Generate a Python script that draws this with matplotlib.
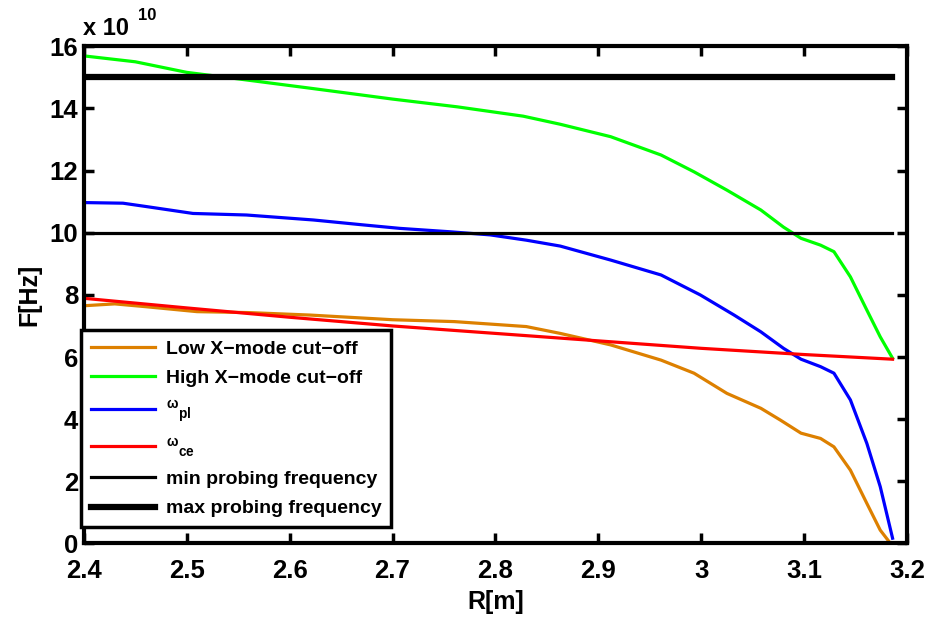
import numpy as np
import matplotlib
matplotlib.use('Agg')
import matplotlib.pyplot as plt

plt.rcParams['font.family'] = ['Liberation Sans', 'DejaVu Sans']
plt.rcParams['font.weight'] = 'bold'
plt.rcParams['mathtext.fontset'] = 'custom'
plt.rcParams['mathtext.rm'] = 'Liberation Sans:bold'
plt.rcParams['mathtext.it'] = 'Liberation Sans:bold'
plt.rcParams['mathtext.bf'] = 'Liberation Sans:bold'

# values in units of 1e10 Hz
r_low = [2.40, 2.43, 2.46, 2.51, 2.56, 2.62, 2.70, 2.76, 2.83, 2.863, 2.912, 2.961,
         2.993, 3.025, 3.058, 3.077, 3.097, 3.116, 3.129, 3.145, 3.161, 3.174, 3.184]
f_low = [7.65, 7.71, 7.62, 7.46, 7.43, 7.35, 7.20, 7.14, 6.98, 6.76, 6.39, 5.90,
         5.48, 4.83, 4.35, 3.97, 3.55, 3.38, 3.11, 2.36, 1.29, 0.43, 0.0]

r_high = [2.40, 2.45, 2.50, 2.55, 2.62, 2.70, 2.763, 2.827, 2.863, 2.912, 2.961,
          2.993, 3.025, 3.058, 3.080, 3.097, 3.116, 3.129, 3.145, 3.161, 3.174, 3.186]
f_high = [15.69, 15.50, 15.16, 14.95, 14.65, 14.30, 14.05, 13.75, 13.49, 13.09, 12.50,
          11.96, 11.37, 10.73, 10.18, 9.82, 9.60, 9.39, 8.58, 7.51, 6.65, 5.96]

r_pl = [2.40, 2.438, 2.461, 2.506, 2.558, 2.623, 2.672, 2.707, 2.756, 2.795, 2.830,
        2.863, 2.912, 2.961, 2.999, 3.032, 3.058, 3.080, 3.097, 3.116, 3.129, 3.145,
        3.161, 3.174, 3.186]
f_pl = [10.97, 10.95, 10.84, 10.62, 10.57, 10.41, 10.25, 10.14, 10.03, 9.93, 9.76,
        9.57, 9.12, 8.64, 8.00, 7.35, 6.81, 6.28, 5.93, 5.69, 5.48, 4.62,
        3.22, 1.83, 0.17]

r_ce = [2.40, 2.50, 2.60, 2.70, 2.80, 2.90, 3.00, 3.10, 3.186]
f_ce = [7.89, 7.58, 7.28, 7.00, 6.76, 6.52, 6.28, 6.08, 5.93]

r_probe = [2.40, 3.185]
f_min = 10.0
f_max = 15.0

fig = plt.figure(figsize=(9.29, 6.2), dpi=100)
ax = fig.add_axes([0.0903, 0.1234, 0.886, 0.802])

ax.plot(r_low, f_low, color='#DD8000', lw=2.3, label='Low X\u2212mode cut\u2212off')
ax.plot(r_high, f_high, color='#00FF00', lw=2.3, label='High X\u2212mode cut\u2212off')
ax.plot(r_pl, f_pl, color='#0000FF', lw=2.3, label=r'$^{\omega}{}_{pl}$')
ax.plot(r_ce, f_ce, color='#FF0000', lw=2.3, label=r'$^{\omega}{}_{ce}$')
ax.plot(r_probe, [f_min, f_min], color='black', lw=2.3, label='min probing frequency')
ax.plot(r_probe, [f_max, f_max], color='black', lw=4.5, label='max probing frequency')

ax.set_xlim(2.4, 3.2)
ax.set_ylim(0, 16)
ax.set_xticks(np.arange(2.4, 3.21, 0.1))
ax.set_xticklabels(['2.4', '2.5', '2.6', '2.7', '2.8', '2.9', '3', '3.1', '3.2'])
ax.set_yticks(np.arange(0, 17, 2))
ax.tick_params(direction='in', length=7, width=2.5, top=True, right=True,
               labelsize=18.5)
ax.tick_params(axis='x', pad=11)
ax.tick_params(axis='y', pad=4)
for s in ax.spines.values():
    s.set_linewidth(3)

ax.set_xlabel('R[m]', fontsize=18, fontweight='bold', labelpad=5)
ax.set_ylabel('F[Hz]', fontsize=18, fontweight='bold', labelpad=6)
ax.text(-0.001, 1.012, 'x 10', transform=ax.transAxes, fontsize=17,
        fontweight='bold', ha='left', va='bottom')
ax.text(0.066, 1.046, '10', transform=ax.transAxes, fontsize=12,
        fontweight='bold', ha='left', va='bottom')

leg = ax.legend(loc='lower left', bbox_to_anchor=(-0.003, 0.033), fontsize=14,
                frameon=True, fancybox=False, handlelength=3.3, borderpad=0.5,
                labelspacing=0.6, handletextpad=0.55, borderaxespad=0)
leg.get_frame().set_edgecolor('black')
leg.get_frame().set_linewidth(2.5)
leg.get_frame().set_alpha(1)

fig.savefig('out.png', dpi=100)
